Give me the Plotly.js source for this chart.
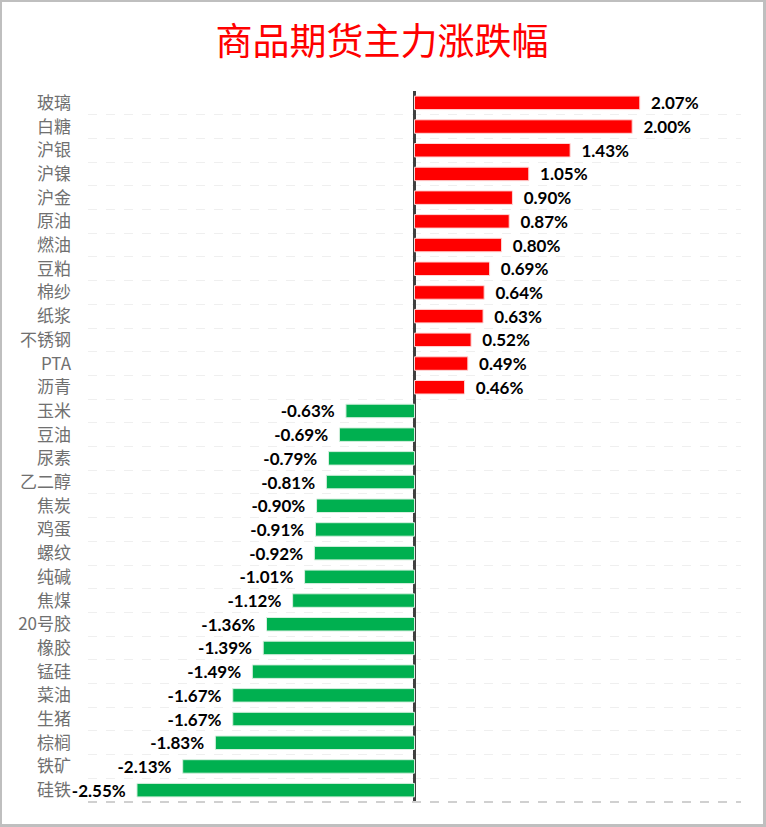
<!DOCTYPE html>
<html>
<head>
<meta charset="utf-8">
<script src="https://cdn.plot.ly/plotly-3.0.1.min.js"></script>
<style>
html,body{margin:0;padding:0;background:#fff;}
#wrap{position:relative;width:766px;height:827px;}
#chart{width:766px;height:827px;}
#frame{position:absolute;left:0;top:0;width:766px;height:827px;box-sizing:border-box;border:2px solid #bfbfbf;border-right-width:3px;border-bottom-width:3px;pointer-events:none;}
</style>
</head>
<body>
<div id="wrap"><div id="chart"></div><div id="frame"></div></div>
<script>
const categories = ["玻璃","白糖","沪银","沪镍","沪金","原油","燃油","豆粕","棉纱","纸浆","不锈钢","PTA","沥青","玉米","豆油","尿素","乙二醇","焦炭","鸡蛋","螺纹","纯碱","焦煤","20号胶","橡胶","锰硅","菜油","生猪","棕榈","铁矿","硅铁"];
const values = [2.07,2.00,1.43,1.05,0.90,0.87,0.80,0.69,0.64,0.63,0.52,0.49,0.46,-0.63,-0.69,-0.79,-0.81,-0.90,-0.91,-0.92,-1.01,-1.12,-1.36,-1.39,-1.49,-1.67,-1.67,-1.83,-2.13,-2.55];
const titleText = "商品期货主力涨跌幅";

const NB = "\u00a0";
const labels = values.map(v => v > 0 ? NB + NB + v.toFixed(2) + "%" : v.toFixed(2) + "%" + NB + NB);
const colors = values.map(v => v > 0 ? "#FF0000" : "#00B050");
const lineColors = values.map(v => v > 0 ? "#ffd6d6" : "#d6f0df");

const trace = {
  type: "bar",
  orientation: "h",
  x: values,
  y: categories,
  text: labels,
  textposition: "outside",
  constraintext: "none",
  cliponaxis: false,
  textfont: {family: "Lato, 'Open Sans', sans-serif", size: 17, color: "#000", weight: "bold"},
  marker: {color: colors, line: {color: lineColors, width: 1}},
  width: 0.57,
  hoverinfo: "skip"
};

const layout = {
  width: 766, height: 827,
  margin: {l: 88, r: 25, t: 91, b: 25},
  paper_bgcolor: "#fff", plot_bgcolor: "#fff",
  showlegend: false,
  title: {
    text: titleText,
    font: {family: "'Noto Sans CJK SC', sans-serif", size: 37, color: "#FF0000"},
    x: 382/766, xanchor: "center", xref: "container",
    y: 1 - 42/827, yref: "container", yanchor: "middle"
  },
  xaxis: {
    range: [-3, 3],
    showticklabels: false,
    showgrid: false,
    zeroline: true, zerolinecolor: "#404040", zerolinewidth: 3,
    showline: false, ticks: "", fixedrange: true
  },
  yaxis: {
    type: "category",
    autorange: "reversed",
    tickson: "boundaries",
    showgrid: true, gridcolor: "#efefef", griddash: "dash", gridwidth: 1,
    ticks: "", ticklen: 0,
    ticklabelstandoff: 16,
    tickfont: {family: "'Noto Sans CJK SC', serif", size: 17, color: "#707070"},
    showline: false, zeroline: false, fixedrange: true
  },
  shapes: [{
    type: "line", xref: "paper", yref: "paper",
    x0: 0, x1: 1, y0: 0, y1: 0,
    line: {color: "#d0d0d0", width: 2, dash: "dash"}
  }],
  bargap: 0.43
};

Plotly.newPlot("chart", [trace], layout, {displayModeBar: false, staticPlot: true});
</script>
</body>
</html>
